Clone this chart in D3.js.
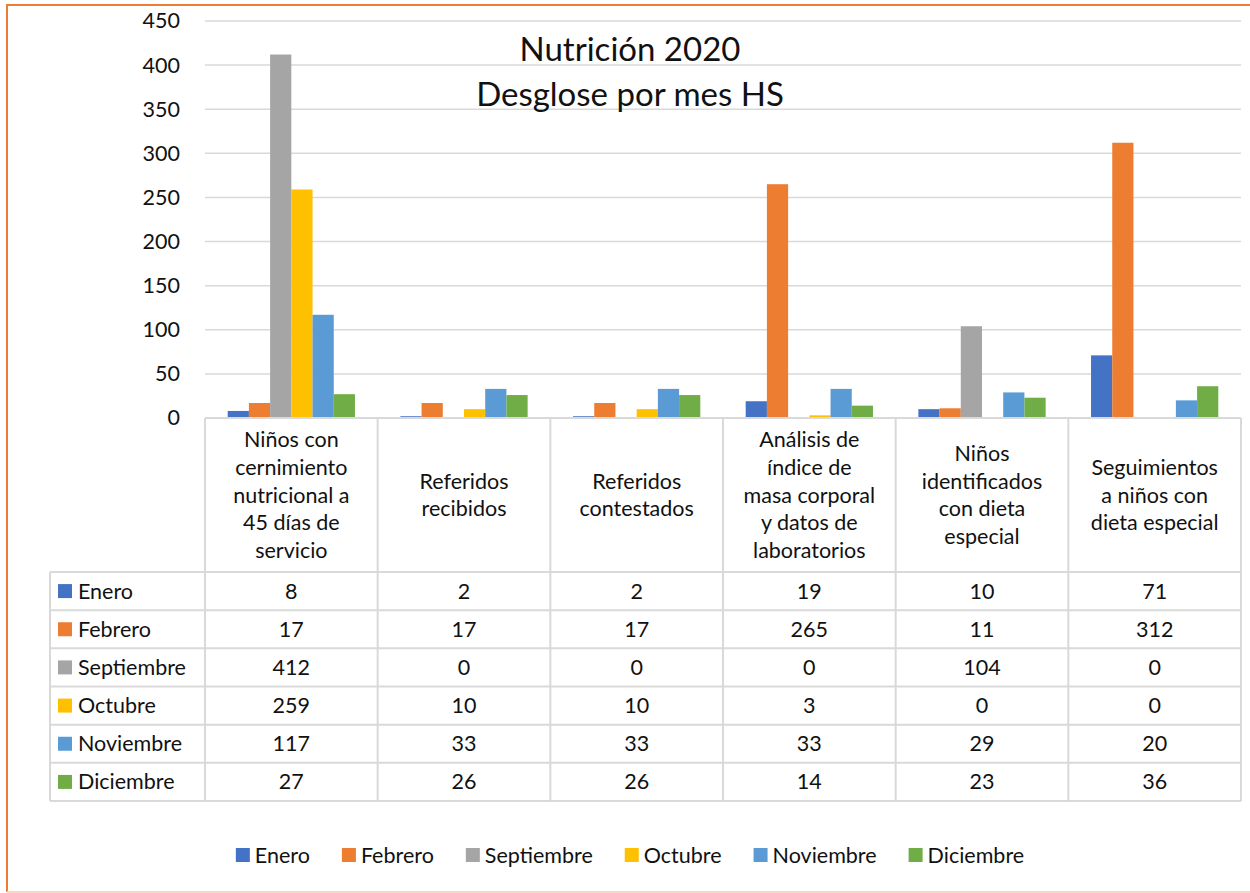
<!DOCTYPE html>
<html>
<head>
<meta charset="utf-8">
<script src="https://cdn.jsdelivr.net/npm/d3@7"></script>
<style>
  html, body { margin: 0; padding: 0; background: #fff; }
  svg { display: block; font-family: Lato, "Open Sans", sans-serif; }
</style>
</head>
<body>
<svg id="chart" width="1250" height="893"></svg>
<script>
// Nutrition activity per category, broken down by month
const categories = [
  ["Niños con", "cernimiento", "nutricional a", "45 días de", "servicio"],
  ["Referidos", "recibidos"],
  ["Referidos", "contestados"],
  ["Análisis de", "índice de", "masa corporal", "y datos de", "laboratorios"],
  ["Niños", "identificados", "con dieta", "especial"],
  ["Seguimientos", "a niños con", "dieta especial"]
];
const months = ["Enero", "Febrero", "Septiembre", "Octubre", "Noviembre", "Diciembre"];
const enero      = [8, 2, 2, 19, 10, 71];
const febrero    = [17, 17, 17, 265, 11, 312];
const septiembre = [412, 0, 0, 0, 104, 0];
const octubre    = [259, 10, 10, 3, 0, 0];
const noviembre  = [117, 33, 33, 33, 29, 20];
const diciembre  = [27, 26, 26, 14, 23, 36];
const yTicks = [0, 50, 100, 150, 200, 250, 300, 350, 400, 450];
const titleLines = ["Nutrición 2020", "Desglose por mes HS"];

const seriesValues = [enero, febrero, septiembre, octubre, noviembre, diciembre];
const colors = ["#4472C4", "#ED7D31", "#A5A5A5", "#FFC000", "#5B9BD5", "#70AD47"];

const svg = d3.select("#chart");
const textColor = "#111";
const gridColor = "#D9D9D9";
const fs = 21.5;

// frame
svg.append("line").attr("x1", 7).attr("x2", 1250).attr("y1", 5).attr("y2", 5)
  .attr("stroke", "#ED7D31").attr("stroke-width", 2);
svg.append("line").attr("x1", 7).attr("x2", 7).attr("y1", 4).attr("y2", 892)
  .attr("stroke", "#ED7D31").attr("stroke-width", 2);
svg.append("line").attr("x1", 7).attr("x2", 1250).attr("y1", 892).attr("y2", 892)
  .attr("stroke", "#FAD7C0").attr("stroke-width", 2);

const plotLeft = 205, plotRight = 1241, plotTop = 21, plotBottom = 418;

const x0 = d3.scaleBand().domain(d3.range(categories.length))
  .range([plotLeft, plotRight]).padding(0);
const x1 = d3.scaleBand().domain(months)
  .range([0, x0.bandwidth()]).paddingInner(0).paddingOuter(1.07);
const y = d3.scaleLinear().domain([0, 450]).range([plotBottom, plotTop]);

// gridlines
svg.append("g").selectAll("line").data(yTicks.filter(t => t > 0)).join("line")
  .attr("x1", plotLeft).attr("x2", plotRight)
  .attr("y1", d => y(d)).attr("y2", d => y(d))
  .attr("stroke", gridColor).attr("stroke-width", 1.5);

// y axis labels
const yAxis = d3.axisLeft(y).tickValues(yTicks).tickSize(0).tickPadding(0);
const yg = svg.append("g").attr("transform", "translate(180,0)").call(yAxis);
yg.select(".domain").remove();
yg.selectAll("text").attr("font-size", fs).attr("fill", textColor)
  .attr("font-family", "Lato, 'Open Sans', sans-serif");

// title
svg.append("g").selectAll("text").data(titleLines).join("text")
  .attr("x", 630).attr("y", (d, i) => 61 + i * 45)
  .attr("text-anchor", "middle").attr("font-size", 33).attr("fill", textColor)
  .text(d => d);

// bars
const barG = svg.append("g");
months.forEach((m, si) => {
  barG.append("g").attr("fill", colors[si]).selectAll("rect")
    .data(seriesValues[si]).join("rect")
    .attr("x", (d, ci) => x0(ci) + x1(m))
    .attr("width", x1.bandwidth())
    .attr("y", d => y(d))
    .attr("height", d => y(0) - y(d));
});

// data table
const headerTop = 418, headerBottom = 572, rowH = (801 - 572) / 6;
const tableLeft = 50;
const tg = svg.append("g");
const lineAttrs = sel => sel.attr("stroke", gridColor).attr("stroke-width", 2);

// horizontal lines
tg.append("line").attr("x1", plotLeft).attr("x2", plotRight)
  .attr("y1", headerTop).attr("y2", headerTop).call(lineAttrs);
d3.range(7).forEach(r => {
  const yy = headerBottom + r * rowH;
  tg.append("line").attr("x1", tableLeft).attr("x2", plotRight)
    .attr("y1", yy).attr("y2", yy).call(lineAttrs);
});
// vertical lines
tg.append("line").attr("x1", tableLeft).attr("x2", tableLeft)
  .attr("y1", headerBottom).attr("y2", headerBottom + 6 * rowH).call(lineAttrs);
d3.range(categories.length + 1).forEach(c => {
  const xx = c < categories.length ? x0(c) : plotRight;
  tg.append("line").attr("x1", xx).attr("x2", xx)
    .attr("y1", headerTop).attr("y2", headerBottom + 6 * rowH).call(lineAttrs);
});

// category labels
const lh = 27.6;
categories.forEach((lines, ci) => {
  const cx = x0(ci) + x0.bandwidth() / 2;
  const midY = (headerTop + headerBottom) / 2;
  const startY = midY - (lines.length - 1) * lh / 2;
  tg.append("g").selectAll("text").data(lines).join("text")
    .attr("x", cx).attr("y", (d, i) => startY + i * lh)
    .attr("dy", "0.35em").attr("text-anchor", "middle")
    .attr("font-size", fs).attr("fill", textColor).text(d => d);
});

// rows: legend key, month name, values
months.forEach((m, si) => {
  const cy = headerBottom + si * rowH + rowH / 2;
  tg.append("rect").attr("x", 58).attr("y", cy - 7).attr("width", 14).attr("height", 14)
    .attr("fill", colors[si]);
  tg.append("text").attr("x", 78).attr("y", cy).attr("dy", "0.35em")
    .attr("font-size", fs).attr("fill", textColor).text(m);
  tg.append("g").selectAll("text").data(seriesValues[si]).join("text")
    .attr("x", (d, ci) => x0(ci) + x0.bandwidth() / 2)
    .attr("y", cy).attr("dy", "0.35em").attr("text-anchor", "middle")
    .attr("font-size", fs).attr("fill", textColor).text(d => d);
});

// bottom legend
const legendGap = 32;
const legend = svg.append("g");
const items = legend.selectAll("g").data(months).join("g");
items.append("rect").attr("width", 14).attr("height", 14).attr("y", -7)
  .attr("fill", (d, i) => colors[i]);
items.append("text").attr("x", 19).attr("dy", "0.35em")
  .attr("font-size", fs).attr("fill", textColor).text(d => d);
let cursor = 0;
items.each(function() {
  d3.select(this).attr("transform", `translate(${cursor},0)`);
  cursor += this.getBBox().width + legendGap;
});
const totalW = cursor - legendGap;
legend.attr("transform", `translate(${630 - totalW / 2},855)`);
</script>
</body>
</html>
